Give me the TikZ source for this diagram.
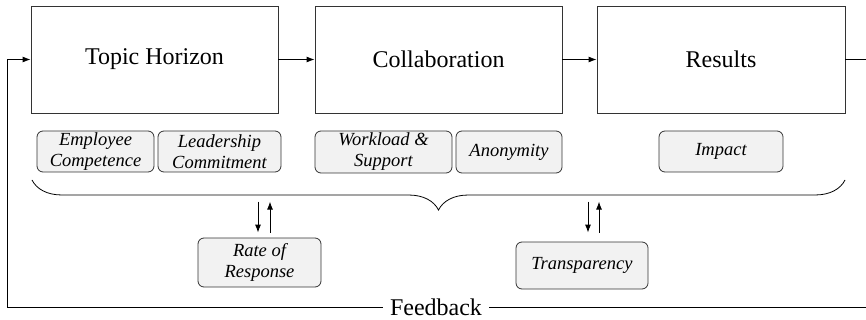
\documentclass[tikz,border=0pt]{standalone}
\usepackage{fontspec}
\setmainfont{Liberation Serif}
\usetikzlibrary{arrows.meta,decorations.pathreplacing}
\tikzset{
stage/.style={draw=black!80, line width=0.9pt, minimum width=247pt, minimum height=107pt, inner sep=0pt, font=\fontsize{24}{28}\selectfont},
factor/.style={draw=black!80, line width=0.8pt, rounded corners=6pt, fill=black!5, inner sep=0pt, align=center, font=\fontsize{18.5}{21}\selectfont\itshape},
}
\begin{document}
\begin{tikzpicture}[x=1pt, y=-1pt, >={Latex[length=8pt,width=6pt]}, line width=0.9pt]
\useasboundingbox (0,0) rectangle (866,320);
\node[stage] (topic) at (154.5,59.5) {Topic Horizon};
\node[stage] (collab) at (438.5,59.5) {Collaboration};
\node[stage, minimum width=248pt] (results) at (721,59.5) {Results};
\draw[->] (topic) -- (collab);
\draw[->] (collab) -- (results);
\coordinate (rightend) at (866,59.5);
\draw (results) -- (rightend);

\node[factor, minimum width=117pt, minimum height=41pt] (employee) at (95.5,151.5) {Employee\\Competence};
\node[factor, minimum width=123pt, minimum height=41pt] (leader) at (219.5,151.5) {Leadership\\Commitment};
\node[factor, minimum width=137pt, minimum height=42pt] (workload) at (383.5,152) {Workload \&\\Support};
\node[factor, minimum width=106pt, minimum height=42pt] (anon) at (509,152) {Anonymity};
\node[factor, minimum width=124pt, minimum height=41pt] (impact) at (721,151.5) {Impact};

\coordinate (braceL) at (32,180);
\coordinate (braceR) at (845,180);
\draw[line width=0.8pt, decorate, decoration={brace, mirror, amplitude=30pt}] (braceL) -- (braceR);

\node[factor, minimum width=123pt, minimum height=49pt] (rate) at (259.5,262.5) {Rate of\\Response};
\node[factor, minimum width=132pt, minimum height=47pt] (transp) at (582,265.5) {Transparency};
\draw[->] ([xshift=-1.5pt,yshift=36pt]rate.north) -- ([xshift=-1.5pt,yshift=5pt]rate.north);
\draw[->] ([xshift=10.5pt,yshift=5pt]rate.north) -- ([xshift=10.5pt,yshift=36pt]rate.north);
\draw[->] ([xshift=6pt,yshift=40pt]transp.north) -- ([xshift=6pt,yshift=9pt]transp.north);
\draw[->] ([xshift=17pt,yshift=9pt]transp.north) -- ([xshift=17pt,yshift=40pt]transp.north);

\node[font=\fontsize{24}{28}\selectfont, inner sep=7pt] (fb) at (436,307) {Feedback};
\coordinate (fbend) at (866,307);
\draw (fb.east) -- (fbend);
\draw[->] (fb.west) -| ([xshift=-23pt]topic.west) -- (topic.west);
\end{tikzpicture}
\end{document}
